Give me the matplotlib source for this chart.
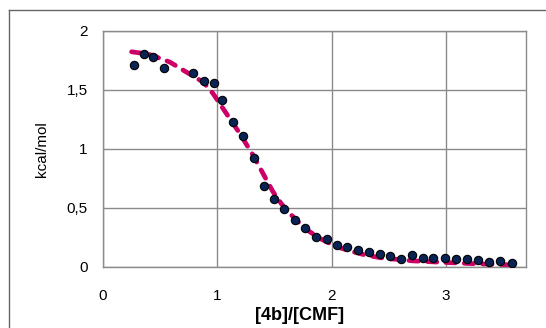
import matplotlib
matplotlib.use("Agg")
import matplotlib.pyplot as plt
from matplotlib.lines import Line2D
from matplotlib.ticker import FuncFormatter

# measured data points
x_data = [0.27, 0.36, 0.44, 0.53, 0.79, 0.88, 0.97, 1.045, 1.14, 1.225, 1.32,
          1.406, 1.50, 1.58, 1.677, 1.764, 1.866, 1.956, 2.046, 2.134, 2.23,
          2.323, 2.42, 2.51, 2.61, 2.70, 2.80, 2.89, 2.99, 3.09, 3.18, 3.28,
          3.38, 3.47, 3.58]
y_data = [1.705, 1.80, 1.78, 1.68, 1.64, 1.57, 1.555, 1.41, 1.23, 1.11, 0.926,
          0.683, 0.571, 0.49, 0.397, 0.326, 0.256, 0.233, 0.188, 0.169, 0.140,
          0.129, 0.107, 0.095, 0.068, 0.101, 0.079, 0.079, 0.079, 0.068, 0.068,
          0.059, 0.040, 0.051, 0.031]

# fitted curve
x_fit = [0.25, 0.40, 0.585, 0.73, 0.876, 0.963, 1.08, 1.197, 1.313, 1.40,
         1.487, 1.56, 1.633, 1.72, 1.808, 1.90, 1.983, 2.08, 2.186, 2.30,
         2.45, 2.71, 3.0, 3.32, 3.58]
y_fit = [1.82, 1.80, 1.733, 1.648, 1.564, 1.466, 1.297, 1.128, 0.945, 0.79,
         0.636, 0.535, 0.453, 0.37, 0.298, 0.24, 0.20, 0.16, 0.129, 0.10,
         0.075, 0.052, 0.038, 0.025, 0.018]

x_ticks = [0, 1, 2, 3]
y_ticks = [0, 0.5, 1, 1.5, 2]

plt.rcParams['font.family'] = ['Liberation Sans', 'DejaVu Sans']

W, H = 546, 328
fig = plt.figure(figsize=(W / 100, H / 100), dpi=100)
ax = fig.add_axes([103 / W, 1 - 267 / H, (526 - 103) / W, (267 - 30.5) / H])

grid_c = '#8a8a8a'
ax.set_xlim(0, 3.7)
ax.set_ylim(0, 2)
ax.set_xticks(x_ticks)
ax.set_yticks(y_ticks)
ax.grid(True, color=grid_c, linewidth=1.0)
ax.set_axisbelow(True)
for s in ax.spines.values():
    s.set_color(grid_c)
    s.set_linewidth(1.0)

fmt = FuncFormatter(lambda v, p: ('%g' % v).replace('.', ','))
ax.xaxis.set_major_formatter(fmt)
ax.yaxis.set_major_formatter(fmt)
ax.tick_params(axis='both', length=0, labelsize=11, colors='black')
ax.tick_params(axis='x', pad=16)
ax.tick_params(axis='y', pad=11)

line, = ax.plot(x_fit, y_fit, color='#cc0066', linewidth=3.4,
                dash_capstyle='round', zorder=2)
line.set_dashes([2.0, 1.9])
ax.plot(x_data, y_data, linestyle='none', marker='o', markersize=6.0,
        markerfacecolor='#0a2356', markeredgecolor='black',
        markeredgewidth=0.8, zorder=3)

ax.set_ylabel('kcal/mol', fontsize=11, labelpad=13)
fig.text(300 / W, 1 - 315 / H, '[4b]/[CMF]', fontsize=13, fontweight='bold',
         ha='center', va='center')

# outer frame
fig.add_artist(Line2D([8.5 / W, 8.5 / W], [1 - 9.5 / H, 0], color='#666666',
                      linewidth=1.0, transform=fig.transFigure))
fig.add_artist(Line2D([8.5 / W, 1], [1 - 9.5 / H, 1 - 9.5 / H], color='#666666',
                      linewidth=1.0, transform=fig.transFigure))

fig.savefig('out.png', dpi=100)
